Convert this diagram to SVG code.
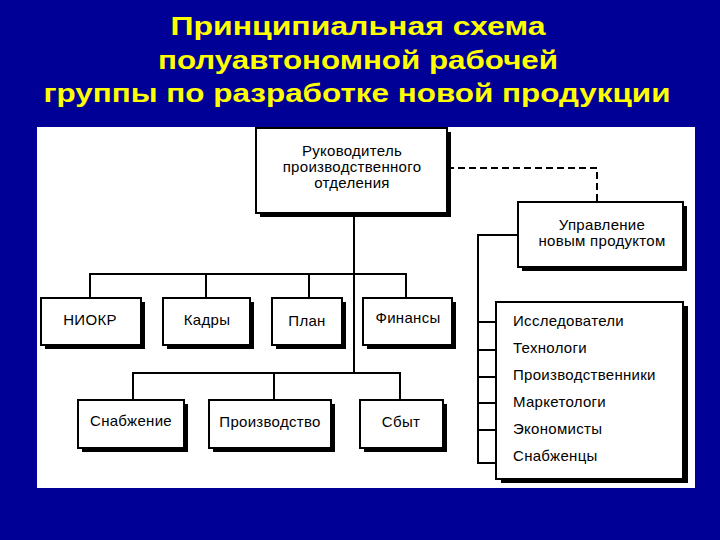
<svg xmlns="http://www.w3.org/2000/svg" width="720" height="540" viewBox="0 0 720 540">
<defs>
<style>
.title{font-family:"Liberation Sans",Arial,sans-serif;font-weight:bold;font-size:25px;fill:#FFFF00;text-anchor:middle}
.box{fill:#fff;stroke:#000;stroke-width:2}
.sh{fill:#000}
.t{font-family:"Liberation Sans",Arial,sans-serif;font-size:15px;letter-spacing:0.3px;fill:#000;text-anchor:middle}
.tl{font-family:"Liberation Sans",Arial,sans-serif;font-size:15px;letter-spacing:0.3px;fill:#000}
.ln{fill:none;stroke:#000;stroke-width:2}
.dash{fill:none;stroke:#000;stroke-width:2;stroke-dasharray:7 4}
</style>
</defs>
<rect x="0" y="0" width="720" height="540" fill="#000096"/>
<g id="title">
<text class="title" x="358" y="35" textLength="375" lengthAdjust="spacingAndGlyphs">Принципиальная схема</text>
<text class="title" x="358" y="69" textLength="400" lengthAdjust="spacingAndGlyphs">полуавтономной рабочей</text>
<text class="title" x="357" y="102" textLength="627" lengthAdjust="spacingAndGlyphs">группы по разработке новой продукции</text>
</g>
<rect x="37" y="127" width="658" height="361" fill="#fff"/>
<g id="connectors">
<path class="ln" d="M354,213 V373"/>
<path class="ln" d="M90,298 V274 H406 V298 M206,274 V298 M309,274 V298"/>
<path class="ln" d="M133,400 V373 H400 V400 M274,373 V400"/>
<path class="dash" d="M447,168 H597 V202"/>
<path class="ln" d="M518,235 H478 V463 H496 M478,322 H496 M478,350 H496 M478,377 H496 M478,403 H496 M478,430 H496"/>
</g>
<g id="head">
<rect class="sh" x="260" y="132" width="191" height="85"/>
<rect class="box" x="256" y="128" width="191" height="85"/>
<text class="t" x="352" y="156">Руководитель</text>
<text class="t" x="352" y="172">производственного</text>
<text class="t" x="352" y="188">отделения</text>
</g>
<g id="newproduct">
<rect class="sh" x="522" y="206" width="165" height="65"/>
<rect class="box" x="518" y="202" width="165" height="65"/>
<text class="t" x="602" y="230">Управление</text>
<text class="t" x="602" y="246">новым продуктом</text>
</g>
<g id="niokr">
<rect class="sh" x="45" y="302" width="100" height="47"/>
<rect class="box" x="41" y="298" width="100" height="47"/>
<text class="t" x="90" y="325">НИОКР</text>
</g>
<g id="kadry">
<rect class="sh" x="167" y="302" width="87" height="47"/>
<rect class="box" x="163" y="298" width="87" height="47"/>
<text class="t" x="207" y="325">Кадры</text>
</g>
<g id="plan">
<rect class="sh" x="276" y="302" width="70" height="47"/>
<rect class="box" x="272" y="298" width="70" height="47"/>
<text class="t" x="307" y="326">План</text>
</g>
<g id="finansy">
<rect class="sh" x="367" y="302" width="89" height="47"/>
<rect class="box" x="363" y="298" width="89" height="47"/>
<text class="t" x="408" y="323">Финансы</text>
</g>
<g id="snabzhenie">
<rect class="sh" x="82" y="404" width="106" height="48"/>
<rect class="box" x="78" y="400" width="106" height="48"/>
<text class="t" x="131" y="426">Снабжение</text>
</g>
<g id="proizvodstvo">
<rect class="sh" x="213" y="404" width="122" height="48"/>
<rect class="box" x="209" y="400" width="122" height="48"/>
<text class="t" x="270" y="427">Производство</text>
</g>
<g id="sbyt">
<rect class="sh" x="364" y="404" width="83" height="48"/>
<rect class="box" x="360" y="400" width="83" height="48"/>
<text class="t" x="401" y="427">Сбыт</text>
</g>
<g id="staff">
<rect class="sh" x="501" y="306" width="187" height="177"/>
<rect class="box" x="496" y="302" width="187" height="177"/>
<text class="tl" x="513" y="326">Исследователи</text>
<text class="tl" x="513" y="353">Технологи</text>
<text class="tl" x="513" y="380">Производственники</text>
<text class="tl" x="513" y="407">Маркетологи</text>
<text class="tl" x="513" y="434">Экономисты</text>
<text class="tl" x="513" y="461">Снабженцы</text>
</g>
</svg>
